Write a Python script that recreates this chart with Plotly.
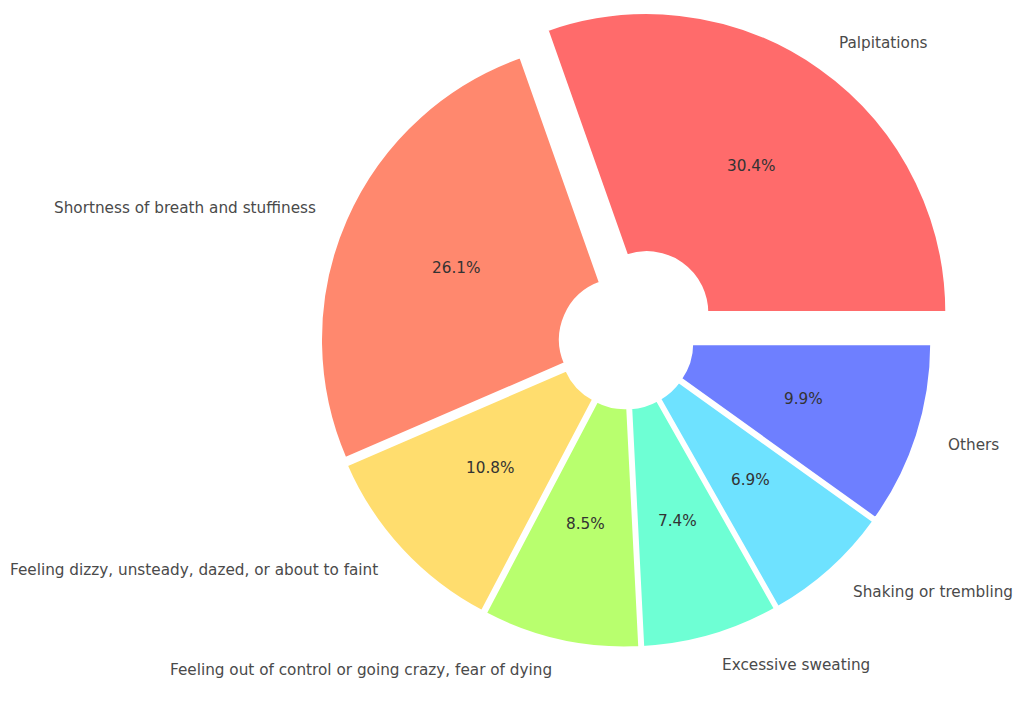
import math
import plotly.graph_objects as go

labels = [
    "Palpitations",
    "Shortness of breath and stuffiness",
    "Feeling dizzy, unsteady, dazed, or about to faint",
    "Feeling out of control or going crazy, fear of dying",
    "Excessive sweating",
    "Shaking or trembling",
    "Others",
]
values = [30.4, 26.1, 10.8, 8.5, 7.4, 6.9, 9.9]
pulls = [0.12, 0.02, 0.02, 0.02, 0.02, 0.02, 0.02]
colors = ["#FF6B6B", "#FF886E", "#FFDD6E", "#B8FF6E", "#6EFFD4", "#6EE2FF", "#6E7FFF"]

W, H = 1022, 701
R = 300.0          # pie radius in px
CX, CY = 626.0, 342.0
max_pull = max(pulls)
box = 2 * R * (1 + max_pull)
m_t = CY - box / 2
m_b = H - m_t - box
dom_x = [(CX - box / 2) / W, (CX + box / 2) / W]

total = sum(values)
# first slice starts at 3 o'clock and runs counterclockwise
rotation = 90 - values[0] / total * 360

fig = go.Figure()
fig.add_trace(go.Pie(
    labels=labels,
    values=values,
    pull=pulls,
    hole=0.2,
    sort=False,
    direction="counterclockwise",
    rotation=rotation,
    marker=dict(colors=colors, line=dict(color="white", width=3)),
    textinfo="none",
    hoverinfo="label+percent",
    showlegend=False,
    domain=dict(x=dom_x, y=[0, 1]),
))

annotations = []
cum = 0.0
for lab, v, p in zip(labels, values, pulls):
    mid = (cum + v / 2) / total * 2 * math.pi
    cum += v
    c, s = math.cos(mid), math.sin(mid)
    # label
    lx = CX + (p + 1.1) * R * c
    ly = CY - (p + 1.1) * R * s
    annotations.append(dict(
        x=lx / W, y=(H - m_b - ly) / box, xref="paper", yref="paper",
        text=lab, showarrow=False,
        xanchor="left" if c > 0 else "right", yanchor="middle",
        font=dict(family="DejaVu Sans", size=15.25, color="#4a4a4a"),
    ))
    # percentage
    px_ = CX + (p + 0.6) * R * c
    py_ = CY - (p + 0.6) * R * s
    annotations.append(dict(
        x=px_ / W, y=(H - m_b - py_) / box, xref="paper", yref="paper",
        text=f"{v / total * 100:.1f}%", showarrow=False,
        xanchor="center", yanchor="middle",
        font=dict(family="DejaVu Sans", size=15.25, color="#333333"),
    ))

fig.update_layout(
    width=W, height=H, autosize=False,
    margin=dict(l=0, r=0, t=m_t, b=m_b, pad=0),
    paper_bgcolor="white", plot_bgcolor="white",
    annotations=annotations,
)

fig.write_html("out.html")
